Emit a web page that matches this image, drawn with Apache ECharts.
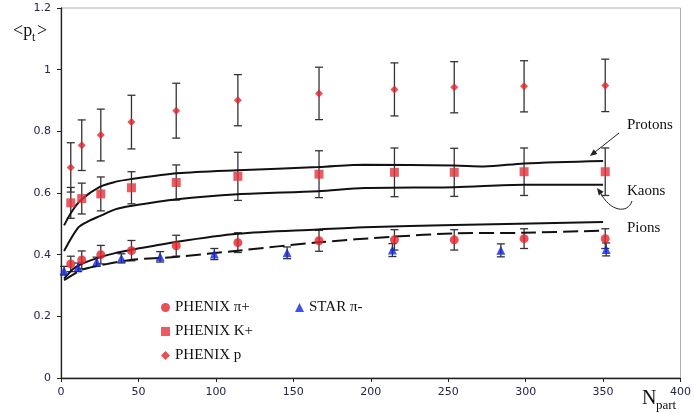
<!DOCTYPE html>
<html>
<head>
<meta charset="utf-8">
<script src="https://cdn.jsdelivr.net/npm/echarts@6/dist/echarts.min.js"></script>
<style>
  html, body { margin: 0; padding: 0; background: #fff; }
  #chartdiv { width: 694px; height: 413px; }
</style>
</head>
<body>
<div id="chartdiv"></div>
<script>
// PHENIX Npart bins
var nPhenix = [6.3, 13.4, 25.7, 45.5, 74.4, 114.2, 166.6, 215.3, 253.9, 299.0, 351.4];
var pionPt = [0.370, 0.383, 0.400, 0.413, 0.429, 0.439, 0.445, 0.448, 0.448, 0.452, 0.452];
var pionErr = [0.025, 0.029, 0.030, 0.033, 0.034, 0.032, 0.034, 0.033, 0.033, 0.032, 0.032];
var kaonPt = [0.568, 0.582, 0.597, 0.617, 0.634, 0.654, 0.661, 0.667, 0.667, 0.669, 0.669];
var kaonErr = [0.050, 0.050, 0.055, 0.052, 0.057, 0.078, 0.076, 0.079, 0.078, 0.077, 0.077];
var protonPt = [0.683, 0.755, 0.788, 0.830, 0.867, 0.901, 0.923, 0.936, 0.943, 0.946, 0.949];
var protonErr = [0.080, 0.082, 0.084, 0.087, 0.089, 0.083, 0.085, 0.086, 0.083, 0.083, 0.085];

// STAR pi-
var nStar = [2, 11, 23, 39, 64, 99, 146, 214, 284, 352];
var starPt = [0.348, 0.359, 0.377, 0.388, 0.393, 0.402, 0.406, 0.415, 0.414, 0.417];
var starErr = [0.014, 0.014, 0.015, 0.015, 0.017, 0.018, 0.019, 0.021, 0.021, 0.021];

// model curves
var protonCurveX = [2, 7, 13, 25, 35, 45, 75, 114, 166, 196, 254, 273, 299, 350];
var protonCurveY = [0.495, 0.540, 0.578, 0.620, 0.636, 0.645, 0.664, 0.674, 0.684, 0.692, 0.689, 0.686, 0.696, 0.704];
var kaonCurveX = [2, 11, 17.5, 25, 35, 45, 75, 114, 166, 196, 254, 299, 350];
var kaonCurveY = [0.412, 0.487, 0.508, 0.525, 0.547, 0.558, 0.580, 0.596, 0.606, 0.616, 0.619, 0.627, 0.627];
var pionCurveX = [2, 9, 20, 35, 45, 75, 114, 166, 196, 254, 350];
var pionCurveY = [0.322, 0.358, 0.383, 0.405, 0.415, 0.442, 0.468, 0.482, 0.489, 0.496, 0.506];
var dashCurveX = [2, 13, 23, 45, 75, 114, 166, 214, 254, 299, 350];
var dashCurveY = [0.317, 0.350, 0.363, 0.383, 0.393, 0.413, 0.440, 0.458, 0.469, 0.471, 0.478];

var xTicks = [0, 50, 100, 150, 200, 250, 300, 350, 400];
var yTicks = [0, 0.2, 0.4, 0.6, 0.8, 1, 1.2];

function zip(xs, ys) {
    var out = [];
    for (var i = 0; i < xs.length; i++) {
        out.push([xs[i], ys[i]]);
    }
    return out;
}

function zipErr(xs, ys, es) {
    var out = [];
    for (var i = 0; i < xs.length; i++) {
        out.push([xs[i], ys[i], es[i]]);
    }
    return out;
}

// vertical error bar with caps
function renderErr(params, api) {
    var x = api.value(0), y = api.value(1), e = api.value(2);
    var hi = api.coord([x, y + e]);
    var lo = api.coord([x, y - e]);
    var cap = 4;
    var st = {stroke: '#333', lineWidth: 1.3};
    return {
        type: 'group',
        children: [
            {type: 'line', shape: {x1: hi[0], y1: hi[1], x2: lo[0], y2: lo[1]}, style: st},
            {type: 'line', shape: {x1: hi[0] - cap, y1: hi[1], x2: hi[0] + cap, y2: hi[1]}, style: st},
            {type: 'line', shape: {x1: lo[0] - cap, y1: lo[1], x2: lo[0] + cap, y2: lo[1]}, style: st}
        ]
    };
}

function errSeries(xs, ys, es) {
    return {
        type: 'custom',
        renderItem: renderErr,
        data: zipErr(xs, ys, es),
        encode: {x: 0, y: 1},
        silent: true,
        z: 2
    };
}

function curveSeries(xs, ys, dashed) {
    return {
        type: 'line',
        data: zip(xs, ys),
        smooth: 0.3,
        showSymbol: false,
        lineStyle: {color: '#111', width: 2, type: dashed ? [15, 6] : 'solid'},
        silent: true,
        z: 3
    };
}

var red = '#e3232b';
var serif = '"Liberation Serif", "DejaVu Serif", serif';
var tickFont = {color: '#24244e', fontFamily: 'DejaVu Sans', fontSize: 11};

var dom = document.getElementById("chartdiv");
var myChart = echarts.init(dom, null, {renderer: 'canvas'});

var option = {
    backgroundColor: '#fff',
    animation: false,
    grid: {
        left: 61,
        right: 10,
        top: 8,
        bottom: 35,
        show: true,
        borderColor: '#b0b0b0',
        borderWidth: 1
    },
    xAxis: {
        type: 'value',
        min: xTicks[0],
        max: xTicks[xTicks.length - 1],
        interval: 50,
        splitLine: {show: false},
        axisLine: {lineStyle: {color: '#222', width: 1.3}},
        axisTick: {inside: false, length: 4, lineStyle: {color: '#222'}},
        axisLabel: Object.assign({margin: 9}, tickFont)
    },
    yAxis: {
        type: 'value',
        min: yTicks[0],
        max: yTicks[yTicks.length - 1],
        interval: 0.2,
        splitLine: {show: false},
        axisLine: {show: true, lineStyle: {color: '#222', width: 1.3}},
        axisTick: {show: true, inside: false, length: 4, lineStyle: {color: '#222'}},
        axisLabel: Object.assign({margin: 10}, tickFont)
    },
    legend: [
        {
            orient: 'vertical',
            left: 156,
            top: 295,
            itemWidth: 9,
            itemHeight: 9,
            itemGap: 9,
            textStyle: {fontFamily: serif, fontSize: 15, color: '#111'},
            data: [
                {name: 'PHENIX π+', icon: 'circle'},
                {name: 'PHENIX K+', icon: 'rect'},
                {name: 'PHENIX p', icon: 'diamond'}
            ]
        },
        {
            orient: 'vertical',
            left: 290,
            top: 295,
            itemWidth: 9,
            itemHeight: 9,
            textStyle: {fontFamily: serif, fontSize: 15, color: '#111'},
            data: [{name: 'STAR π-', icon: 'triangle'}]
        }
    ],
    series: [
        curveSeries(protonCurveX, protonCurveY, false),
        curveSeries(kaonCurveX, kaonCurveY, false),
        curveSeries(pionCurveX, pionCurveY, false),
        curveSeries(dashCurveX, dashCurveY, true),
        errSeries(nPhenix, pionPt, pionErr),
        errSeries(nPhenix, kaonPt, kaonErr),
        errSeries(nPhenix, protonPt, protonErr),
        errSeries(nStar, starPt, starErr),
        {
            name: 'PHENIX π+', type: 'scatter', symbol: 'circle', symbolSize: 9,
            itemStyle: {color: red}, data: zip(nPhenix, pionPt), z: 5
        },
        {
            name: 'PHENIX K+', type: 'scatter', symbol: 'rect', symbolSize: 9,
            itemStyle: {color: '#e2343c'}, data: zip(nPhenix, kaonPt), z: 5
        },
        {
            name: 'PHENIX p', type: 'scatter', symbol: 'diamond', symbolSize: 8,
            itemStyle: {color: red}, data: zip(nPhenix, protonPt), z: 5
        },
        {
            name: 'STAR π-', type: 'scatter', symbol: 'triangle', symbolSize: 9,
            itemStyle: {color: '#1124e0'}, data: zip(nStar, starPt), z: 5
        }
    ],
    graphic: [
        // y-axis title <p_t>
        {type: 'text', left: 13, top: 22, style: {text: '<p', font: '18px ' + serif, fill: '#111'}},
        {type: 'text', left: 32, top: 32, style: {text: 't', font: '12px ' + serif, fill: '#111'}},
        {type: 'text', left: 37, top: 22, style: {text: '>', font: '18px ' + serif, fill: '#111'}},
        // x-axis title N_part
        {type: 'text', left: 642, top: 389, style: {text: 'N', font: '20px ' + serif, fill: '#111'}},
        {type: 'text', left: 656, top: 399, style: {text: 'part', font: '13px ' + serif, fill: '#111'}},
        // curve labels
        {type: 'text', left: 627, top: 118, style: {text: 'Protons', font: '15px ' + serif, fill: '#111'}},
        {type: 'text', left: 627, top: 184, style: {text: 'Kaons', font: '15px ' + serif, fill: '#111'}},
        {type: 'text', left: 627, top: 221, style: {text: 'Pions', font: '15px ' + serif, fill: '#111'}},
        // arrows
        {type: 'line', shape: {x1: 619, y1: 133, x2: 593, y2: 153.6}, style: {stroke: '#222', lineWidth: 1}},
        {type: 'polygon', shape: {points: [[590, 156], [597.4, 154.0], [593.6, 149.3]]}, style: {fill: '#222'}},
        {type: 'bezierCurve', shape: {x1: 632, y1: 201, cpx1: 628, cpy1: 214, cpx2: 610, cpy2: 212, x2: 600, y2: 192}, style: {stroke: '#222', lineWidth: 1, fill: null}},
        {type: 'polygon', shape: {points: [[597, 188], [603.6, 191.8], [598.8, 195.4]]}, style: {fill: '#222'}}
    ]
};

myChart.setOption(option);
</script>
</body>
</html>
